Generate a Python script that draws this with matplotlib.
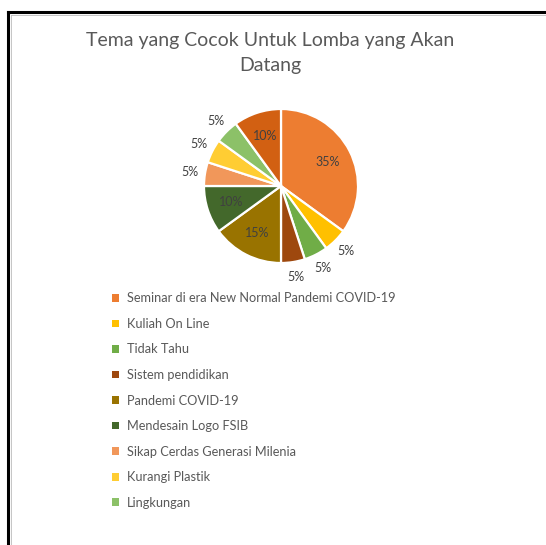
import numpy as np
import matplotlib
matplotlib.use("Agg")
import matplotlib.pyplot as plt
from matplotlib.patches import Patch
from matplotlib.lines import Line2D

# data
judul = "Tema yang Cocok Untuk Lomba yang Akan\nDatang"
kategori = [
    "Seminar di era New Normal Pandemi COVID-19",
    "Kuliah On Line",
    "Tidak Tahu",
    "Sistem pendidikan",
    "Pandemi COVID-19",
    "Mendesain Logo FSIB",
    "Sikap Cerdas Generasi Milenia",
    "Kurangi Plastik",
    "Lingkungan",
    "Lainnya",
]
persen = [35, 5, 5, 5, 15, 10, 5, 5, 5, 10]
warna = ["#ED7D31", "#FFC000", "#70AD47", "#9E480E", "#997300",
         "#43682B", "#F1975A", "#FFCD33", "#8CC168", "#D26012"]
n_legenda = 9  # legenda di gambar hanya menampilkan 9 kategori

plt.rcParams["font.family"] = ["Lato", "DejaVu Sans"]

W, H = 546, 545
fig = plt.figure(figsize=(W / 100, H / 100), dpi=100)

# bingkai kiri dan atas
fig.add_artist(Line2D([8 / W, 8 / W], [0, 1 - 12 / H], color="black", lw=2.2))
fig.add_artist(Line2D([8 / W, 1], [1 - 12 / H, 1 - 12 / H], color="black", lw=2.2))
fig.add_artist(Line2D([10.5 / W, 10.5 / W], [0, 1 - 14.5 / H], color="#bbbbbb", lw=0.6))
fig.add_artist(Line2D([10.5 / W, 1], [1 - 14.5 / H, 1 - 14.5 / H], color="#bbbbbb", lw=0.6))

fig.text(270 / W, 1 - 53 / H, judul, ha="center", va="center",
         fontsize=14, color="#595959", linespacing=1.6)

# pie
cx, cy, r = 281, 186, 77
ax = fig.add_axes([(cx - r) / W, 1 - (cy + r) / H, 2 * r / W, 2 * r / H])
wedges, _ = ax.pie(persen, colors=warna, startangle=90, counterclock=False,
                   radius=1, wedgeprops=dict(edgecolor="white", linewidth=1.6))
ax.set_xlim(-1, 1)
ax.set_ylim(-1, 1)
ax.set_aspect("equal")
ax.axis("off")

for w, p in zip(wedges, persen):
    sudut = np.deg2rad((w.theta1 + w.theta2) / 2)
    jarak = 0.68 if p >= 10 else 1.2
    ax.text(jarak * np.cos(sudut), jarak * np.sin(sudut), f"{p}%",
            ha="center", va="center", fontsize=9, color="#404040")

handles = [Patch(facecolor=c, edgecolor="none") for c in warna[:n_legenda]]
fig.legend(handles, kategori[:n_legenda], loc="upper left",
           bbox_to_anchor=(106 / W, 1 - 286 / H), frameon=False, fontsize=9.2,
           labelcolor="#595959", handlelength=0.55, handleheight=0.55,
           handletextpad=0.6, labelspacing=1.06, borderpad=0)

fig.savefig("out.png", dpi=100)
